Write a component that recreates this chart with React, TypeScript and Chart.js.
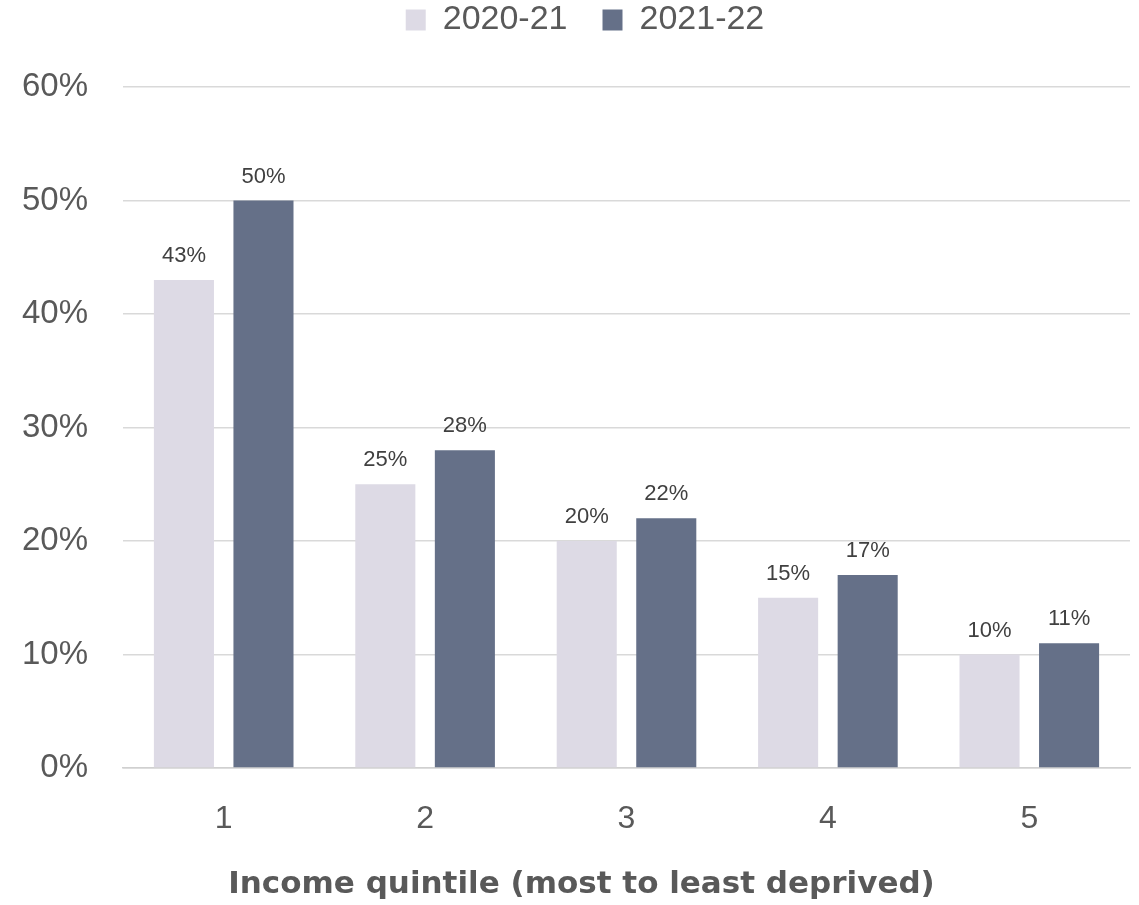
import React, { useEffect, useRef } from "react";
import { Chart, registerables } from "chart.js";

Chart.register(...registerables);

const categories = ["1", "2", "3", "4", "5"];
const series2021 = [43, 25, 20, 15, 10];
const series2122 = [50, 28, 22, 17, 11];
const seriesLabels = ["2020-21", "2021-22"];
const yTicks = [0, 10, 20, 30, 40, 50, 60];
const axisTitle = "Income quintile (most to least deprived)";

const dataLabelPlugin = {
  id: "dataLabels",
  afterDatasetsDraw(chart: any) {
    const ctx = chart.ctx;
    ctx.save();
    ctx.font = "22px 'Liberation Sans', Arial, sans-serif";
    ctx.fillStyle = "#404040";
    ctx.textAlign = "center";
    ctx.textBaseline = "alphabetic";
    chart.data.datasets.forEach((ds: any, i: number) => {
      const meta = chart.getDatasetMeta(i);
      meta.data.forEach((el: any, j: number) => {
        ctx.fillText(ds.data[j] + "%", el.x, el.y - 18);
      });
    });
    ctx.restore();
  },
};

const axisTitlePlugin = {
  id: "axisTitle",
  afterDraw(chart: any) {
    const ctx = chart.ctx;
    ctx.save();
    ctx.font = "bold 31px 'DejaVu Sans', sans-serif";
    ctx.fillStyle = "#595959";
    ctx.textAlign = "center";
    ctx.textBaseline = "middle";
    ctx.fillText(axisTitle, chart.width / 2 + 12, chart.height - 20);
    ctx.restore();
  },
};

const legendSpacePlugin = {
  id: "legendSpace",
  beforeInit(chart: any) {
    const legend = chart.legend;
    if (!legend) return;
    const origFit = legend.fit;
    legend.fit = function () {
      origFit.call(this);
      this.height = 119;
    };
    const origDraw = legend.draw;
    legend.draw = function () {
      const ctx = this.ctx;
      ctx.save();
      ctx.translate(20, 0);
      origDraw.call(this);
      ctx.restore();
    };
  },
};

export default function App() {
  const ref = useRef<HTMLCanvasElement>(null);
  useEffect(() => {
    document.body.style.margin = "0";
    const chart = new Chart(ref.current!, {
      type: "bar",
      data: {
        labels: categories,
        datasets: [
          {
            label: seriesLabels[0],
            data: series2021,
            backgroundColor: "#dddae5",
            barPercentage: 0.755,
            categoryPercentage: 0.79,
          },
          {
            label: seriesLabels[1],
            data: series2122,
            backgroundColor: "#657088",
            barPercentage: 0.755,
            categoryPercentage: 0.79,
          },
        ],
      },
      options: {
        animation: false,
        responsive: false,
        layout: { padding: { left: 0, right: 9, top: -32, bottom: 0 } },
        plugins: {
          legend: {
            position: "top",
            labels: {
              font: { family: "'Liberation Sans', Arial, sans-serif", size: 34 },
              color: "#595959",
              boxWidth: 20,
              boxHeight: 21,
              padding: 35,
            },
          },
          tooltip: { enabled: false },
        },
        scales: {
          x: {
            grid: { display: false, drawTicks: false },
            border: { color: "#d0d0d0", width: 1.5 },
            ticks: {
              font: { family: "'Liberation Sans', Arial, sans-serif", size: 32 },
              color: "#595959",
              padding: 32,
            },
            afterFit(scale: any) {
              scale.height = 137;
            },
          },
          y: {
            min: 0,
            max: 60,
            afterBuildTicks(scale: any) {
              scale.ticks = yTicks.map((v) => ({ value: v }));
            },
            grid: { color: "#d9d9d9", lineWidth: 1.5, drawTicks: false },
            border: { display: false },
            ticks: {
              font: { family: "'Liberation Sans', Arial, sans-serif", size: 33 },
              color: "#595959",
              padding: 35,
              callback: (v: any) => v + "%",
            },
            afterFit(scale: any) {
              scale.width = 123;
            },
          },
        },
      },
      plugins: [legendSpacePlugin, dataLabelPlugin, axisTitlePlugin],
    });
    return () => chart.destroy();
  }, []);
  return <canvas ref={ref} width={1139} height={905} style={{ display: "block" }} />;
}
